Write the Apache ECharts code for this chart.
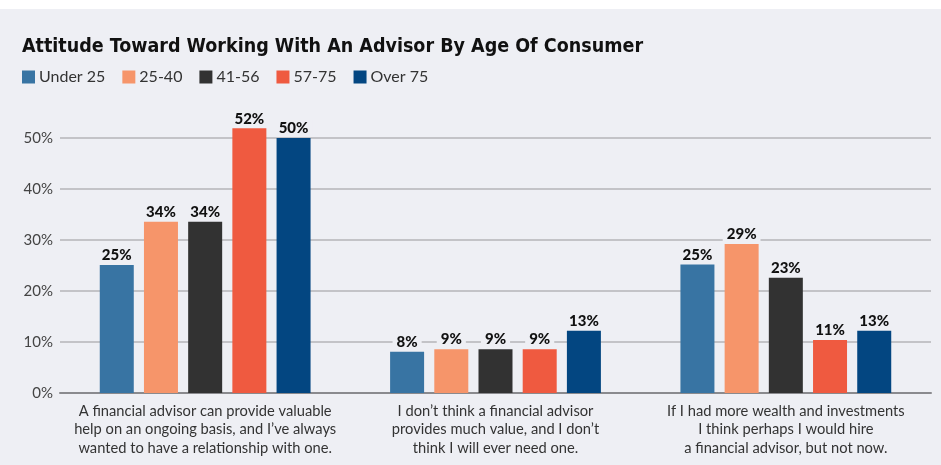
<!DOCTYPE html>
<html><head><meta charset="utf-8">
<script src="https://cdn.jsdelivr.net/npm/echarts@6/dist/echarts.min.js"></script>
<style>html,body{margin:0;padding:0;background:#eeeff4;}#c{width:941px;height:465px;}</style>
</head><body><div id="c"></div>
<script>
const categories = [
  "A financial advisor can provide valuable\nhelp on an ongoing basis, and I\u2019ve always\nwanted to have a relationship with one.",
  "I don\u2019t think a financial advisor\nprovides much value, and I don\u2019t\nthink I will ever need one.",
  "If I had more wealth and investments\nI think perhaps I would hire\na financial advisor, but not now."
];
const seriesNames = ["Under 25", "25-40", "41-56", "57-75", "Over 75"];
const under25 = [25.1, 8.1, 25.2];
const age25to40 = [33.6, 8.6, 29.2];
const age41to56 = [33.6, 8.6, 22.6];
const age57to75 = [51.9, 8.6, 10.4];
const over75 = [50, 12.2, 12.2];
const under25Labels = ["25%", "8%", "25%"];
const age25to40Labels = ["34%", "9%", "29%"];
const age41to56Labels = ["34%", "9%", "23%"];
const age57to75Labels = ["52%", "9%", "11%"];
const over75Labels = ["50%", "13%", "13%"];
const yTicks = [0, 10, 20, 30, 40, 50];

const colors = ["#3874a3", "#f6956a", "#323232", "#ef5a40", "#034681"];
const BG = "#eeeff4";
const allValues = [under25, age25to40, age41to56, age57to75, over75];
const allLabels = [under25Labels, age25to40Labels, age41to56Labels, age57to75Labels, over75Labels];

const chart = echarts.init(document.getElementById('c'), null, {renderer: 'canvas'});
chart.setOption({
  backgroundColor: BG,
  animation: false,
  color: colors,
  graphic: [{type: 'rect', left: 0, top: 0, shape: {width: 941, height: 9}, style: {fill: '#ffffff'}}],
  title: {
    text: "Attitude Toward Working With An Advisor By Age Of Consumer",
    left: 22, top: 37, padding: 0,
    textStyle: {fontFamily: "'DejaVu Sans Condensed', sans-serif", fontWeight: 'bold', fontSize: 19.5, color: '#111'}
  },
  legend: {
    left: 22, top: 69, padding: 0, itemGap: 17, itemWidth: 13, itemHeight: 13,
    icon: 'rect',
    textStyle: {fontFamily: 'Lato', fontSize: 16, color: '#333', padding: [0, 0, 0, -1]},
    data: seriesNames
  },
  grid: {left: 60, right: 10, top: 138, bottom: 72},
  xAxis: {
    type: 'category', data: categories,
    axisLine: {lineStyle: {color: '#8a8a8e', width: 2}},
    axisTick: {show: false},
    axisLabel: {fontFamily: 'Lato', fontSize: 14.7, color: '#333', lineHeight: 18.5, margin: 9, interval: 0}
  },
  yAxis: {
    type: 'value', min: yTicks[0], max: yTicks[yTicks.length - 1], interval: 10,
    axisLine: {show: false}, axisTick: {show: false},
    axisLabel: {fontFamily: 'Lato', fontSize: 15, color: '#444', margin: 7, formatter: v => v + '%'},
    splitLine: {lineStyle: {color: '#b4b4b8', width: 1.5}}
  },
  series: seriesNames.map((name, i) => ({
    name: name, type: 'bar', data: allValues[i], barWidth: 34, barGap: '30%', clip: false,
    itemStyle: {color: colors[i]},
    label: {
      show: true, position: 'top', distance: 2,
      formatter: p => allLabels[i][p.dataIndex],
      fontFamily: 'Lato', fontWeight: 900, fontSize: 15, color: '#111',
      backgroundColor: BG, padding: [1, 4, 0, 4]
    }
  }))
});
</script></body></html>
